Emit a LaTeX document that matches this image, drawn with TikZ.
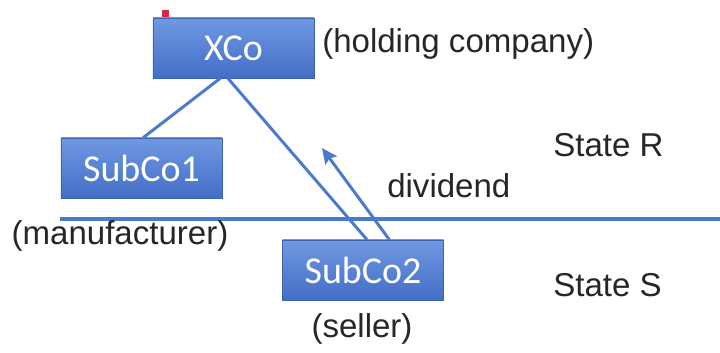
\documentclass[tikz,border=0pt]{standalone}
\usepackage{fontspec}
\setmainfont{Liberation Sans}
\newfontfamily\boxfont{Carlito}
\usetikzlibrary{arrows.meta, positioning}

\definecolor{boxtop}{RGB}{112,152,226}
\definecolor{boxbot}{RGB}{66,110,198}
\definecolor{linkblue}{RGB}{74,122,204}
\definecolor{markred}{RGB}{214,40,70}

\begin{document}
\begin{tikzpicture}[x=0.025cm, y=-0.025cm]
\tikzset{
  company/.style={rectangle, inner sep=0pt, minimum width=4.03cm, minimum height=1.5cm,
    top color=boxtop, bottom color=boxbot, draw=boxbot!90!black, line width=0.4pt,
    text=white, font=\boxfont\fontsize{27}{32}\selectfont},
  label/.style={font=\fontsize{23.5}{28}\selectfont, text=black!85, inner sep=0pt},
  link/.style={draw=linkblue, line width=2.1pt}
}
\useasboundingbox (0,0) rectangle (720,353);

% companies
\node[company] (XCo) at (233.5,48) {XCo};
\node[company] (SubCo1) at (141.5,168) {SubCo1};
\node[company] (SubCo2) at (363,270) {SubCo2};

\fill[markred] (162,10) rectangle (169,17);

% ownership links
\draw[link] ([xshift=-0.33cm]XCo.south) -- ([xshift=0.04cm]SubCo1.north);
\draw[link] ([xshift=-0.14cm]XCo.south) -- ([xshift=0.1cm]SubCo2.north);

% border between the states
\coordinate (borderW) at (60,219);
\coordinate (borderE) at (720,219);
\draw[link, line width=2.4pt] (borderW) -- (borderE);

% dividend flow
\coordinate (divtip) at (322,148);
\draw[link, -{Stealth[length=11pt, width=10pt, inset=2pt]}] ([xshift=0.66cm]SubCo2.north) -- (divtip);

% labels
\node[label, anchor=west] at (322,44) {(holding company)};
\node[label] at (120,236) {(manufacturer)};
\node[label] at (362,329) {(seller)};
\node[label, anchor=west] at (387,186) {dividend};
\node[label, anchor=west] at (553,145) {State R};
\node[label, anchor=west] at (553,285) {State S};
\end{tikzpicture}
\end{document}
